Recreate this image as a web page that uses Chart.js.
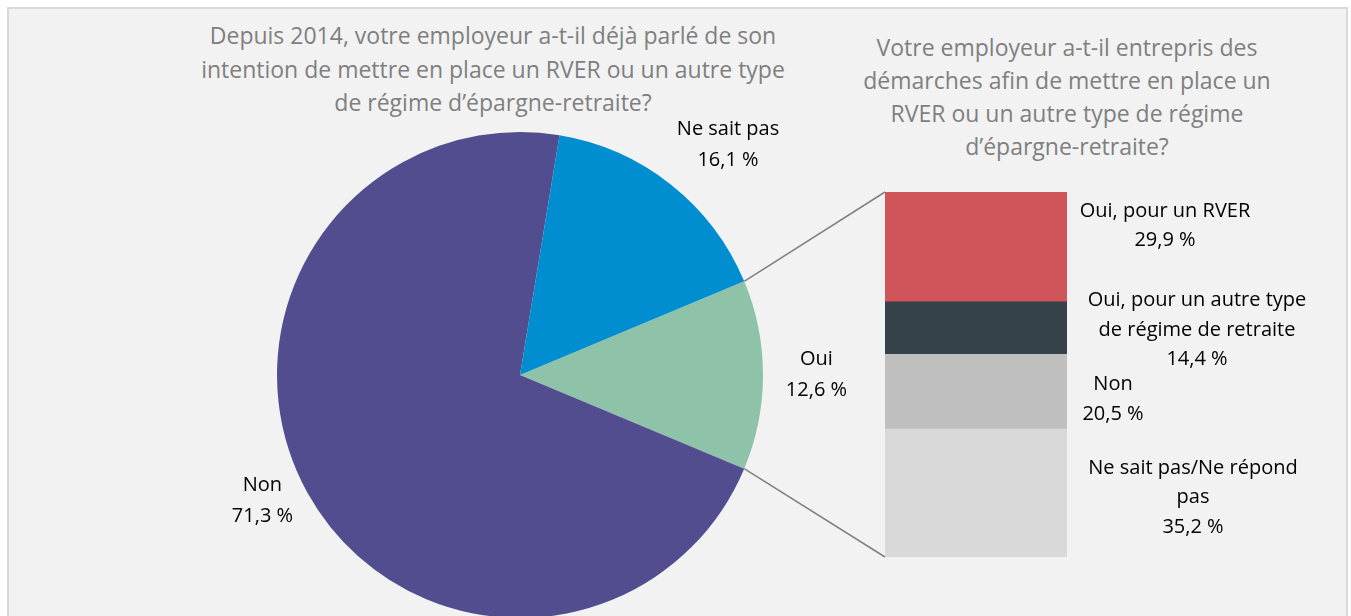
<!DOCTYPE html>
<html>
<head>
<meta charset="utf-8">
<script src="https://cdn.jsdelivr.net/npm/chart.js@4/dist/chart.umd.min.js"></script>
<style>
  html, body { margin: 0; padding: 0; background: #fff; overflow: hidden; }
  body { width: 1351px; height: 616px; position: relative; font-family: "Open Sans", sans-serif; }
  #frame { position: absolute; left: 7px; top: 7px; width: 1341px; height: 640px; background: #f2f2f2; border: 2px solid #d9d9d9; box-sizing: border-box; }
  .titre { position: absolute; color: #7f7f7f; font-size: 23px; line-height: 33.5px; text-align: center; white-space: pre-line; }
  canvas { position: absolute; }
</style>
</head>
<body>
<div id="frame"></div>
<div class="titre" id="titrePie" style="left:143px; top:19px; width:700px;">Depuis 2014, votre employeur a-t-il déjà parlé de son
intention de mettre en place un RVER ou un autre type
de régime d’épargne-retraite?</div>
<div class="titre" id="titreBar" style="left:847px; top:31px; width:440px; line-height:33px;">Votre employeur a-t-il entrepris des
démarches afin de mettre en place un
RVER ou un autre type de régime
d’épargne-retraite?</div>

<canvas id="lignes" width="1351" height="616" style="left:0; top:0;"></canvas>
<div style="position:absolute; left:170px; top:100px; width:700px; height:540px;"><canvas id="pie"></canvas></div>
<div style="position:absolute; left:870px; top:170px; width:470px; height:420px;"><canvas id="bar"></canvas></div>

<script>
// camembert : question 1 (ordre horaire à partir de "Oui")
const pieLabels = ['Oui', 'Non', 'Ne sait pas'];
const pieValues = [12.6, 71.3, 16.1];
const pieColors = ['#8ec3a9', '#524d8f', '#008ed0'];

// barre empilée : détail des "Oui"
const barLabels = [['Oui, pour un RVER'], ['Oui, pour un autre type', 'de régime de retraite'], ['Non'], ['Ne sait pas/Ne répond', 'pas']];
const barValues = [29.9, 14.4, 20.5, 35.2];
const barColors = ['#d0555b', '#36424a', '#bfbfbf', '#d9d9d9'];

const fmt = v => v.toFixed(1).replace('.', ',') + ' %';
const labelFont = '20px "Open Sans", sans-serif';

// placement des étiquettes (rayon relatif, décalage d'angle en degrés)
const piePos = [{ r: 1.22, a: 0 }, { r: 1.18, a: 2.9 }, { r: 1.276, a: 3.8 }];
// placement des étiquettes de la barre (décalage x depuis le bord droit, décalage y depuis le milieu du segment)
const barPos = [{ dx: 98, dy: -21 }, { dx: 130, dy: 2.5 }, { dx: 46, dy: 8 }, { dx: 126, dy: 5 }];

function drawLines(ctx, lines, x, y, lh) {
  ctx.save();
  ctx.font = labelFont;
  ctx.fillStyle = '#000';
  ctx.textAlign = 'center';
  ctx.textBaseline = 'middle';
  const y0 = y - (lines.length - 1) * lh / 2;
  lines.forEach((t, i) => ctx.fillText(t, x, y0 + i * lh));
  ctx.restore();
}

const pieLabelPlugin = {
  id: 'pieLabels',
  afterDatasetsDraw(chart) {
    const ctx = chart.ctx;
    chart.getDatasetMeta(0).data.forEach((arc, i) => {
      const p = arc.getProps(['x', 'y', 'startAngle', 'endAngle', 'outerRadius'], true);
      const a = (p.startAngle + p.endAngle) / 2 + piePos[i].a * Math.PI / 180;
      const r = p.outerRadius * piePos[i].r;
      drawLines(ctx, [pieLabels[i], fmt(pieValues[i])], p.x + Math.cos(a) * r, p.y + Math.sin(a) * r, 31);
    });
  }
};

const barLabelPlugin = {
  id: 'barLabels',
  afterDatasetsDraw(chart) {
    const ctx = chart.ctx;
    chart.data.datasets.forEach((ds, i) => {
      const el = chart.getDatasetMeta(i).data[0];
      const p = el.getProps(['x', 'y', 'base', 'width'], true);
      const right = p.x + p.width / 2;
      const mid = (p.y + p.base) / 2;
      drawLines(ctx, barLabels[i].concat([fmt(barValues[i])]), right + barPos[i].dx, mid + barPos[i].dy, 29.5);
    });
  }
};

const total = pieValues.reduce((a, b) => a + b, 0);
const pieChart = new Chart(document.getElementById('pie'), {
  type: 'pie',
  data: {
    labels: pieLabels,
    datasets: [{ data: pieValues, backgroundColor: pieColors, borderWidth: 0 }]
  },
  options: {
    responsive: true,
    maintainAspectRatio: false,
    animation: false,
    rotation: 90 - (pieValues[0] / total * 360) / 2,
    layout: { padding: { left: 107, right: 107, top: 32, bottom: 22 } },
    plugins: { legend: { display: false }, tooltip: { enabled: false } }
  },
  plugins: [pieLabelPlugin]
});

const barChart = new Chart(document.getElementById('bar'), {
  type: 'bar',
  data: {
    labels: [''],
    datasets: barValues.map((v, i) => ({
      label: barLabels[i].join(' '),
      data: [v],
      backgroundColor: barColors[i],
      borderWidth: 0,
      barPercentage: 1,
      categoryPercentage: 1
    }))
  },
  options: {
    responsive: true,
    maintainAspectRatio: false,
    animation: false,
    layout: { padding: { left: 15, right: 273, top: 22, bottom: 33 } },
    scales: {
      x: { stacked: true, display: false },
      y: { stacked: true, display: false, min: 0, max: 100, reverse: true }
    },
    plugins: { legend: { display: false }, tooltip: { enabled: false } }
  },
  plugins: [barLabelPlugin]
});

// traits de liaison entre la part "Oui" et la barre
function drawConnectors() {
  const c = document.getElementById('lignes');
  const ctx = c.getContext('2d');
  ctx.clearRect(0, 0, c.width, c.height);
  const pr = pieChart.canvas.getBoundingClientRect();
  const br = barChart.canvas.getBoundingClientRect();
  const arc = pieChart.getDatasetMeta(0).data[0].getProps(['x', 'y', 'startAngle', 'endAngle', 'outerRadius'], true);
  const top = barChart.getDatasetMeta(0).data[0].getProps(['x', 'y', 'base', 'width'], true);
  const last = barChart.getDatasetMeta(barValues.length - 1).data[0].getProps(['x', 'y', 'base', 'width'], true);
  const p1 = [pr.left + arc.x + Math.cos(arc.startAngle) * arc.outerRadius, pr.top + arc.y + Math.sin(arc.startAngle) * arc.outerRadius];
  const p2 = [pr.left + arc.x + Math.cos(arc.endAngle) * arc.outerRadius, pr.top + arc.y + Math.sin(arc.endAngle) * arc.outerRadius];
  const q1 = [br.left + top.x - top.width / 2, br.top + Math.min(top.y, top.base)];
  const q2 = [br.left + last.x - last.width / 2, br.top + Math.max(last.y, last.base)];
  ctx.strokeStyle = '#808080';
  ctx.lineWidth = 1.5;
  ctx.beginPath();
  ctx.moveTo(p1[0], p1[1]); ctx.lineTo(q1[0], q1[1]);
  ctx.moveTo(p2[0], p2[1]); ctx.lineTo(q2[0], q2[1]);
  ctx.stroke();
}
drawConnectors();
</script>
</body>
</html>
